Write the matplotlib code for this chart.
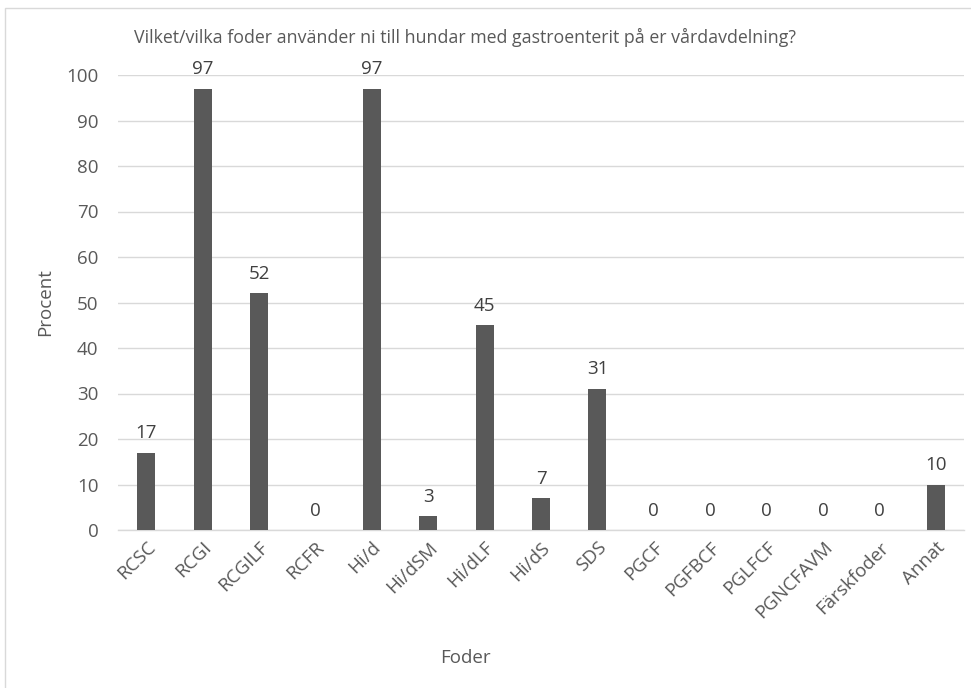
import matplotlib
matplotlib.use("Agg")
import matplotlib.pyplot as plt
from matplotlib.patches import Rectangle

# Data
kategorier = ['RCSC', 'RCGI', 'RCGILF', 'RCFR', 'Hi/d', 'Hi/dSM', 'Hi/dLF', 'Hi/dS',
              'SDS', 'PGCF', 'PGFBCF', 'PGLFCF', 'PGNCFAVM', 'Färskfoder', 'Annat']
procent = [17, 97, 52, 0, 97, 3, 45, 7, 31, 0, 0, 0, 0, 0, 10]
y_ticks = [0, 10, 20, 30, 40, 50, 60, 70, 80, 90, 100]

titel = 'Vilket/vilka foder använder ni till hundar med gastroenterit på er vårdavdelning?'

plt.rcParams['font.family'] = ['Open Sans', 'DejaVu Sans']

fig = plt.figure(figsize=(9.71, 6.88), dpi=100)
ax = fig.add_axes([118/971, 1 - 530/688, (964 - 118)/971, (530 - 75)/688])

x = range(len(kategorier))
ax.bar(x, procent, width=0.32, color='#595959', zorder=3)

# Etiketter ovanför staplarna
for i, v in zip(x, procent):
    ax.text(i, v + 2.3, str(v), ha='center', va='bottom', fontsize=13.5,
            color='#404040', clip_on=False)

ax.set_xlim(-0.5, len(kategorier) - 0.5)
ax.set_ylim(0, 100)
ax.set_yticks(y_ticks)
ax.set_xticks(list(x))
ax.set_xticklabels(kategorier, rotation=45, ha='right', rotation_mode='anchor')

ax.grid(axis='y', color='#d9d9d9', linewidth=1, zorder=0)
for s in ['top', 'right', 'left']:
    ax.spines[s].set_visible(False)
ax.spines['bottom'].set_color('#d9d9d9')
ax.spines['bottom'].set_linewidth(1)

ax.tick_params(axis='both', length=0, labelsize=13.5, colors='#595959')
ax.tick_params(axis='y', pad=14)
ax.tick_params(axis='x', pad=6)

ax.set_ylabel('Procent', fontsize=13.5, color='#595959', labelpad=8.5)
fig.text(465/971, 1 - 658/688, 'Foder', ha='center', va='center',
         fontsize=13.5, color='#595959')
fig.text(465/971, 1 - 37/688, titel, ha='center', va='center',
         fontsize=12.8, color='#595959')

# Ram runt diagrammet
fig.patches.append(Rectangle((5/971, -0.01), 1.0, 1 - 8/688 + 0.01,
                             transform=fig.transFigure, fill=False,
                             edgecolor='#d9d9d9', linewidth=1))

fig.savefig('out.png', dpi=100, facecolor='white')
